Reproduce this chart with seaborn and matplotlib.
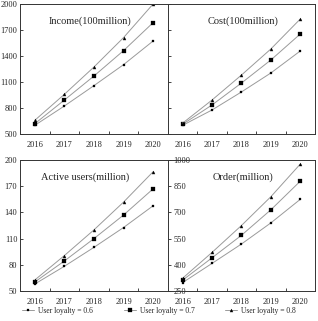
import pandas as pd
import matplotlib
matplotlib.use('Agg')
import matplotlib.pyplot as plt
import seaborn as sns

# dados
anos = [2016, 2017, 2018, 2019, 2020]
lealdade = ['0.6', '0.7', '0.8']

income = {'0.6': [600, 823, 1058, 1300, 1573],
          '0.7': [619, 892, 1169, 1462, 1785],
          '0.8': [658, 958, 1273, 1612, 2000]}
cost = {'0.6': [600, 777, 985, 1204, 1458],
        '0.7': [612, 835, 1088, 1354, 1654],
        '0.8': [625, 892, 1180, 1481, 1827]}
users = {'0.6': [58.0, 78.3, 100, 122.7, 147.6],
         '0.7': [60.3, 84.4, 110, 137, 167],
         '0.8': [62.6, 90.6, 120, 151.8, 186.6]}
orders = {'0.6': [298, 408, 519, 640, 775],
          '0.7': [312, 440, 569, 715, 879],
          '0.8': [323, 471, 625, 790, 977]}

titulos = ['Income(100million)', 'Cost(100million)', 'Active users(million)', 'Order(million)']
y_ticks = [[500, 800, 1100, 1400, 1700, 2000],
           [500, 800, 1100, 1400, 1700, 2000],
           [50, 80, 110, 140, 170, 200],
           [250, 400, 550, 700, 850, 1000]]

sns.set_style('ticks')
plt.rcParams['font.family'] = ['Liberation Serif', 'DejaVu Serif']


def monta_df(d):
    linhas = []
    for k in lealdade:
        for a, v in zip(anos, d[k]):
            linhas.append({'ano': a, 'valor': v, 'lealdade': k})
    return pd.DataFrame(linhas)


fig = plt.figure(figsize=(3.18, 3.21), dpi=100)
posicoes = [[0.063, 0.5826, 0.465, 0.405],
            [0.528, 0.5826, 0.4626, 0.405],
            [0.063, 0.0935, 0.465, 0.408],
            [0.528, 0.0935, 0.4626, 0.408]]
title_x = [0.47, 0.51, 0.44, 0.51]
dados = [income, cost, users, orders]
marcadores = {'0.6': 's', '0.7': 's', '0.8': '^'}
tamanhos = {'0.6': 2.0, '0.7': 2.8, '0.8': 2.2}

for i in range(4):
    ax = fig.add_axes(posicoes[i])
    df = monta_df(dados[i])
    sns.lineplot(data=df, x='ano', y='valor', hue='lealdade', style='lealdade',
                 markers=marcadores, dashes=False, palette=['#9a9a9a'] * 3,
                 linewidth=0.7, ax=ax, legend=False)
    for ln, k in zip(ax.get_lines(), lealdade):
        ln.set_markerfacecolor('black')
        ln.set_markeredgecolor('black')
        ln.set_markeredgewidth(0.2)
        ln.set_markersize(tamanhos[k])
    ax.set_xlim(2015.5, 2020.5)
    ax.set_ylim(y_ticks[i][0], y_ticks[i][-1])
    ax.set_yticks(y_ticks[i])
    ax.set_xticks(anos)
    ax.set_xticks([2016.5, 2017.5, 2018.5, 2019.5], minor=True)
    ax.tick_params(axis='x', which='major', length=0, labelsize=6, pad=5)
    ax.tick_params(axis='x', which='minor', length=2.5, direction='in', width=0.6)
    ax.tick_params(axis='y', direction='in', length=2.5, width=0.6, labelsize=6, pad=2)
    ax.set_xlabel('')
    ax.set_ylabel('')
    for s in ax.spines.values():
        s.set_linewidth(0.7)
        s.set_color('#333333')
    if i == 1:
        ax.set_yticklabels([])
    if i == 3:
        ax.tick_params(axis='y', pad=-4)
        for t in ax.get_yticklabels():
            t.set_horizontalalignment('left')
    ax.text(title_x[i], 0.87, titulos[i], transform=ax.transAxes,
            ha='center', va='center', fontsize=7.5)

# legenda
handles = fig.axes[0].get_lines()[:3]
rotulos = ['User loyalty = 0.6', 'User loyalty = 0.7', 'User loyalty = 0.8']
fig.legend(handles, rotulos, loc='center', bbox_to_anchor=(0.5, 0.031), ncol=3,
           frameon=False, fontsize=5.5, handlelength=1.6, handletextpad=0.5,
           columnspacing=4.0)

plt.savefig('out.png', dpi=100)
